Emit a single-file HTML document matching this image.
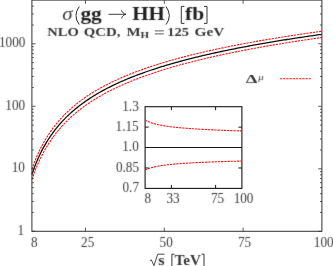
<!DOCTYPE html>
<html><head><meta charset="utf-8">
<style>
html,body{margin:0;padding:0;background:#fff;}
body{width:333px;height:266px;overflow:hidden;}
svg{display:block;}
text{font-family:"Liberation Serif",serif;}
.b{font-weight:bold;}
.i{font-style:italic;}
</style></head><body>
<svg width="333" height="266" viewBox="0 0 333 266">
<rect width="333" height="266" fill="#fff"/>
<!-- main curves -->
<g fill="none" stroke-linejoin="round">
<path d="M31.90,169.28 L33.36,165.17 L34.81,161.34 L36.27,157.76 L37.73,154.40 L39.19,151.23 L40.64,148.24 L42.10,145.41 L43.56,142.73 L45.02,140.18 L46.47,137.75 L47.93,135.43 L49.39,133.21 L50.84,131.09 L52.30,129.06 L53.76,127.10 L55.22,125.22 L56.67,123.41 L58.13,121.67 L59.59,119.99 L61.05,118.36 L62.50,116.79 L63.96,115.28 L65.42,113.80 L66.87,112.38 L68.33,110.99 L69.79,109.65 L71.25,108.35 L72.70,107.08 L74.16,105.84 L75.62,104.64 L77.08,103.47 L78.53,102.33 L79.99,101.22 L81.45,100.14 L82.91,99.08 L84.36,98.05 L85.82,97.04 L87.28,96.05 L88.73,95.08 L90.19,94.14 L91.65,93.21 L93.11,92.31 L94.56,91.42 L96.02,90.56 L97.48,89.70 L98.94,88.87 L100.39,88.05 L101.85,87.25 L103.31,86.46 L104.76,85.69 L106.22,84.93 L107.68,84.18 L109.14,83.45 L110.59,82.72 L112.05,82.02 L113.51,81.32 L114.97,80.63 L116.42,79.96 L117.88,79.29 L119.34,78.64 L120.79,78.00 L122.25,77.36 L123.71,76.74 L125.17,76.12 L126.62,75.52 L128.08,74.92 L129.54,74.33 L131.00,73.75 L132.45,73.18 L133.91,72.62 L135.37,72.06 L136.82,71.51 L138.28,70.97 L139.74,70.44 L141.20,69.91 L142.65,69.39 L144.11,68.87 L145.57,68.36 L147.03,67.86 L148.48,67.37 L149.94,66.88 L151.40,66.39 L152.85,65.91 L154.31,65.44 L155.77,64.97 L157.23,64.51 L158.68,64.06 L160.14,63.60 L161.60,63.16 L163.06,62.72 L164.51,62.28 L165.97,61.85 L167.43,61.42 L168.88,61.00 L170.34,60.58 L171.80,60.16 L173.26,59.75 L174.71,59.35 L176.17,58.95 L177.63,58.55 L179.09,58.15 L180.54,57.76 L182.00,57.38 L183.46,56.99 L184.92,56.61 L186.37,56.24 L187.83,55.87 L189.29,55.50 L190.74,55.13 L192.20,54.77 L193.66,54.41 L195.12,54.06 L196.57,53.70 L198.03,53.35 L199.49,53.01 L200.95,52.66 L202.40,52.32 L203.86,51.99 L205.32,51.65 L206.77,51.32 L208.23,50.99 L209.69,50.66 L211.15,50.34 L212.60,50.02 L214.06,49.70 L215.52,49.38 L216.98,49.07 L218.43,48.76 L219.89,48.45 L221.35,48.14 L222.80,47.84 L224.26,47.53 L225.72,47.24 L227.18,46.94 L228.63,46.64 L230.09,46.35 L231.55,46.06 L233.01,45.77 L234.46,45.48 L235.92,45.20 L237.38,44.91 L238.83,44.63 L240.29,44.36 L241.75,44.08 L243.21,43.80 L244.66,43.53 L246.12,43.26 L247.58,42.99 L249.04,42.72 L250.49,42.46 L251.95,42.19 L253.41,41.93 L254.86,41.67 L256.32,41.41 L257.78,41.15 L259.24,40.90 L260.69,40.64 L262.15,40.39 L263.61,40.14 L265.07,39.89 L266.52,39.64 L267.98,39.40 L269.44,39.15 L270.89,38.91 L272.35,38.67 L273.81,38.42 L275.27,38.19 L276.72,37.95 L278.18,37.71 L279.64,37.48 L281.10,37.24 L282.55,37.01 L284.01,36.78 L285.47,36.55 L286.93,36.32 L288.38,36.10 L289.84,35.87 L291.30,35.65 L292.75,35.42 L294.21,35.20 L295.67,34.98 L297.13,34.76 L298.58,34.54 L300.04,34.33 L301.50,34.11 L302.96,33.89 L304.41,33.68 L305.87,33.47 L307.33,33.26 L308.78,33.05 L310.24,32.84 L311.70,32.63 L313.16,32.42 L314.61,32.22 L316.07,32.01 L317.53,31.81 L318.99,31.60 L320.44,31.40 L321.90,31.20" stroke="#f01818" stroke-width="1.1" stroke-dasharray="2.3 0.9"/>
<path d="M31.90,179.56 L33.36,175.34 L34.81,171.41 L36.27,167.72 L37.73,164.26 L39.19,161.01 L40.64,157.94 L42.10,155.03 L43.56,152.26 L45.02,149.64 L46.47,147.14 L47.93,144.75 L49.39,142.47 L50.84,140.29 L52.30,138.19 L53.76,136.18 L55.22,134.25 L56.67,132.38 L58.13,130.59 L59.59,128.86 L61.05,127.19 L62.50,125.57 L63.96,124.00 L65.42,122.49 L66.87,121.02 L68.33,119.60 L69.79,118.21 L71.25,116.87 L72.70,115.56 L74.16,114.29 L75.62,113.05 L77.08,111.85 L78.53,110.68 L79.99,109.53 L81.45,108.41 L82.91,107.32 L84.36,106.26 L85.82,105.22 L87.28,104.20 L88.73,103.21 L90.19,102.24 L91.65,101.28 L93.11,100.35 L94.56,99.44 L96.02,98.54 L97.48,97.67 L98.94,96.81 L100.39,95.96 L101.85,95.14 L103.31,94.33 L104.76,93.53 L106.22,92.75 L107.68,91.98 L109.14,91.22 L110.59,90.48 L112.05,89.75 L113.51,89.03 L114.97,88.32 L116.42,87.63 L117.88,86.94 L119.34,86.27 L120.79,85.61 L122.25,84.96 L123.71,84.31 L125.17,83.68 L126.62,83.06 L128.08,82.44 L129.54,81.84 L131.00,81.24 L132.45,80.65 L133.91,80.07 L135.37,79.50 L136.82,78.93 L138.28,78.37 L139.74,77.82 L141.20,77.28 L142.65,76.74 L144.11,76.21 L145.57,75.69 L147.03,75.17 L148.48,74.66 L149.94,74.16 L151.40,73.66 L152.85,73.17 L154.31,72.68 L155.77,72.20 L157.23,71.73 L158.68,71.26 L160.14,70.79 L161.60,70.33 L163.06,69.88 L164.51,69.43 L165.97,68.98 L167.43,68.54 L168.88,68.11 L170.34,67.68 L171.80,67.25 L173.26,66.83 L174.71,66.41 L176.17,66.00 L177.63,65.59 L179.09,65.18 L180.54,64.78 L182.00,64.38 L183.46,63.99 L184.92,63.60 L186.37,63.21 L187.83,62.83 L189.29,62.45 L190.74,62.07 L192.20,61.70 L193.66,61.33 L195.12,60.97 L196.57,60.60 L198.03,60.24 L199.49,59.89 L200.95,59.53 L202.40,59.18 L203.86,58.84 L205.32,58.49 L206.77,58.15 L208.23,57.81 L209.69,57.48 L211.15,57.14 L212.60,56.81 L214.06,56.48 L215.52,56.16 L216.98,55.84 L218.43,55.52 L219.89,55.20 L221.35,54.88 L222.80,54.57 L224.26,54.26 L225.72,53.95 L227.18,53.65 L228.63,53.34 L230.09,53.04 L231.55,52.74 L233.01,52.45 L234.46,52.15 L235.92,51.86 L237.38,51.57 L238.83,51.28 L240.29,50.99 L241.75,50.71 L243.21,50.42 L244.66,50.14 L246.12,49.87 L247.58,49.59 L249.04,49.31 L250.49,49.04 L251.95,48.77 L253.41,48.50 L254.86,48.23 L256.32,47.97 L257.78,47.70 L259.24,47.44 L260.69,47.18 L262.15,46.92 L263.61,46.66 L265.07,46.40 L266.52,46.15 L267.98,45.90 L269.44,45.64 L270.89,45.40 L272.35,45.15 L273.81,44.90 L275.27,44.65 L276.72,44.41 L278.18,44.17 L279.64,43.93 L281.10,43.69 L282.55,43.45 L284.01,43.21 L285.47,42.98 L286.93,42.74 L288.38,42.51 L289.84,42.28 L291.30,42.05 L292.75,41.82 L294.21,41.59 L295.67,41.36 L297.13,41.14 L298.58,40.91 L300.04,40.69 L301.50,40.47 L302.96,40.25 L304.41,40.03 L305.87,39.81 L307.33,39.59 L308.78,39.38 L310.24,39.16 L311.70,38.95 L313.16,38.74 L314.61,38.53 L316.07,38.32 L317.53,38.11 L318.99,37.90 L320.44,37.69 L321.90,37.48" stroke="#f01818" stroke-width="1.1" stroke-dasharray="2.3 0.9"/>
<path d="M31.90,174.32 L33.36,170.16 L34.81,166.28 L36.27,162.65 L37.73,159.24 L39.19,156.04 L40.64,153.01 L42.10,150.14 L43.56,147.42 L45.02,144.84 L46.47,142.37 L47.93,140.02 L49.39,137.78 L50.84,135.62 L52.30,133.56 L53.76,131.58 L55.22,129.67 L56.67,127.84 L58.13,126.07 L59.59,124.37 L61.05,122.72 L62.50,121.13 L63.96,119.59 L65.42,118.10 L66.87,116.65 L68.33,115.25 L69.79,113.88 L71.25,112.56 L72.70,111.27 L74.16,110.02 L75.62,108.80 L77.08,107.62 L78.53,106.46 L79.99,105.33 L81.45,104.23 L82.91,103.16 L84.36,102.11 L85.82,101.09 L87.28,100.09 L88.73,99.11 L90.19,98.15 L91.65,97.21 L93.11,96.29 L94.56,95.39 L96.02,94.51 L97.48,93.65 L98.94,92.80 L100.39,91.97 L101.85,91.16 L103.31,90.36 L104.76,89.57 L106.22,88.80 L107.68,88.04 L109.14,87.30 L110.59,86.57 L112.05,85.85 L113.51,85.14 L114.97,84.45 L116.42,83.76 L117.88,83.09 L119.34,82.43 L120.79,81.77 L122.25,81.13 L123.71,80.50 L125.17,79.87 L126.62,79.26 L128.08,78.65 L129.54,78.06 L131.00,77.47 L132.45,76.89 L133.91,76.32 L135.37,75.75 L136.82,75.19 L138.28,74.64 L139.74,74.10 L141.20,73.57 L142.65,73.04 L144.11,72.52 L145.57,72.00 L147.03,71.49 L148.48,70.99 L149.94,70.49 L151.40,70.00 L152.85,69.52 L154.31,69.04 L155.77,68.56 L157.23,68.09 L158.68,67.63 L160.14,67.17 L161.60,66.72 L163.06,66.27 L164.51,65.83 L165.97,65.39 L167.43,64.96 L168.88,64.53 L170.34,64.10 L171.80,63.68 L173.26,63.27 L174.71,62.86 L176.17,62.45 L177.63,62.04 L179.09,61.64 L180.54,61.25 L182.00,60.86 L183.46,60.47 L184.92,60.08 L186.37,59.70 L187.83,59.32 L189.29,58.95 L190.74,58.58 L192.20,58.21 L193.66,57.85 L195.12,57.49 L196.57,57.13 L198.03,56.78 L199.49,56.43 L200.95,56.08 L202.40,55.73 L203.86,55.39 L205.32,55.05 L206.77,54.71 L208.23,54.38 L209.69,54.05 L211.15,53.72 L212.60,53.39 L214.06,53.07 L215.52,52.75 L216.98,52.43 L218.43,52.12 L219.89,51.80 L221.35,51.49 L222.80,51.18 L224.26,50.88 L225.72,50.57 L227.18,50.27 L228.63,49.97 L230.09,49.68 L231.55,49.38 L233.01,49.09 L234.46,48.80 L235.92,48.51 L237.38,48.22 L238.83,47.94 L240.29,47.65 L241.75,47.37 L243.21,47.09 L244.66,46.82 L246.12,46.54 L247.58,46.27 L249.04,46.00 L250.49,45.73 L251.95,45.46 L253.41,45.19 L254.86,44.93 L256.32,44.67 L257.78,44.41 L259.24,44.15 L260.69,43.89 L262.15,43.63 L263.61,43.38 L265.07,43.13 L266.52,42.88 L267.98,42.63 L269.44,42.38 L270.89,42.13 L272.35,41.89 L273.81,41.64 L275.27,41.40 L276.72,41.16 L278.18,40.92 L279.64,40.68 L281.10,40.45 L282.55,40.21 L284.01,39.98 L285.47,39.74 L286.93,39.51 L288.38,39.28 L289.84,39.05 L291.30,38.83 L292.75,38.60 L294.21,38.38 L295.67,38.15 L297.13,37.93 L298.58,37.71 L300.04,37.49 L301.50,37.27 L302.96,37.05 L304.41,36.84 L305.87,36.62 L307.33,36.41 L308.78,36.19 L310.24,35.98 L311.70,35.77 L313.16,35.56 L314.61,35.35 L316.07,35.14 L317.53,34.94 L318.99,34.73 L320.44,34.53 L321.90,34.32" stroke="#111" stroke-width="1.3"/>
</g>
<!-- frame -->
<rect x="31.9" y="0.1" width="290.0" height="231.20000000000002" fill="none" stroke="#3a3a3a" stroke-width="1.05"/>
<!-- inset -->
<rect x="145.1" y="106.7" width="96.80000000000001" height="81.7" fill="#fff" stroke="#161616" stroke-width="1.1"/>
<path d="M145.1,147.55 L241.9,147.55" stroke="#161616" stroke-width="1.05" fill="none"/>
<g fill="none">
<path d="M145.10,119.76 L145.59,120.08 L146.07,120.38 L146.56,120.66 L147.05,120.92 L147.53,121.18 L148.02,121.41 L148.51,121.64 L148.99,121.86 L149.48,122.06 L149.96,122.26 L150.45,122.45 L150.94,122.63 L151.42,122.80 L151.91,122.97 L152.40,123.13 L152.88,123.28 L153.37,123.43 L153.86,123.57 L154.34,123.71 L154.83,123.85 L155.32,123.98 L155.80,124.10 L156.29,124.23 L156.77,124.34 L157.26,124.46 L157.75,124.57 L158.23,124.68 L158.72,124.79 L159.21,124.89 L159.69,124.99 L160.18,125.09 L160.67,125.18 L161.15,125.28 L161.64,125.37 L162.13,125.46 L162.61,125.54 L163.10,125.63 L163.58,125.71 L164.07,125.79 L164.56,125.87 L165.04,125.95 L165.53,126.02 L166.02,126.10 L166.50,126.17 L166.99,126.24 L167.48,126.31 L167.96,126.38 L168.45,126.45 L168.94,126.51 L169.42,126.58 L169.91,126.64 L170.39,126.71 L170.88,126.77 L171.37,126.83 L171.85,126.89 L172.34,126.95 L172.83,127.00 L173.31,127.06 L173.80,127.12 L174.29,127.17 L174.77,127.22 L175.26,127.28 L175.75,127.33 L176.23,127.38 L176.72,127.43 L177.20,127.48 L177.69,127.53 L178.18,127.58 L178.66,127.63 L179.15,127.67 L179.64,127.72 L180.12,127.76 L180.61,127.81 L181.10,127.85 L181.58,127.90 L182.07,127.94 L182.56,127.98 L183.04,128.02 L183.53,128.07 L184.01,128.11 L184.50,128.15 L184.99,128.19 L185.47,128.23 L185.96,128.27 L186.45,128.30 L186.93,128.34 L187.42,128.38 L187.91,128.42 L188.39,128.45 L188.88,128.49 L189.37,128.52 L189.85,128.56 L190.34,128.60 L190.82,128.63 L191.31,128.66 L191.80,128.70 L192.28,128.73 L192.77,128.76 L193.26,128.80 L193.74,128.83 L194.23,128.86 L194.72,128.89 L195.20,128.92 L195.69,128.95 L196.18,128.99 L196.66,129.02 L197.15,129.05 L197.63,129.07 L198.12,129.10 L198.61,129.13 L199.09,129.16 L199.58,129.19 L200.07,129.22 L200.55,129.25 L201.04,129.27 L201.53,129.30 L202.01,129.33 L202.50,129.36 L202.99,129.38 L203.47,129.41 L203.96,129.44 L204.44,129.46 L204.93,129.49 L205.42,129.51 L205.90,129.54 L206.39,129.56 L206.88,129.59 L207.36,129.61 L207.85,129.64 L208.34,129.66 L208.82,129.68 L209.31,129.71 L209.80,129.73 L210.28,129.75 L210.77,129.78 L211.25,129.80 L211.74,129.82 L212.23,129.85 L212.71,129.87 L213.20,129.89 L213.69,129.91 L214.17,129.93 L214.66,129.96 L215.15,129.98 L215.63,130.00 L216.12,130.02 L216.61,130.04 L217.09,130.06 L217.58,130.08 L218.06,130.10 L218.55,130.12 L219.04,130.14 L219.52,130.16 L220.01,130.18 L220.50,130.20 L220.98,130.22 L221.47,130.24 L221.96,130.26 L222.44,130.28 L222.93,130.30 L223.42,130.32 L223.90,130.34 L224.39,130.35 L224.87,130.37 L225.36,130.39 L225.85,130.41 L226.33,130.43 L226.82,130.44 L227.31,130.46 L227.79,130.48 L228.28,130.50 L228.77,130.51 L229.25,130.53 L229.74,130.55 L230.23,130.57 L230.71,130.58 L231.20,130.60 L231.68,130.62 L232.17,130.63 L232.66,130.65 L233.14,130.67 L233.63,130.68 L234.12,130.70 L234.60,130.71 L235.09,130.73 L235.58,130.75 L236.06,130.76 L236.55,130.78 L237.04,130.79 L237.52,130.81 L238.01,130.82 L238.49,130.84 L238.98,130.85 L239.47,130.87 L239.95,130.88 L240.44,130.90 L240.93,130.91 L241.41,130.93 L241.90,130.94" stroke="#f01818" stroke-width="1.1" stroke-dasharray="2.3 0.9"/>
<path d="M145.10,170.11 L145.59,169.86 L146.07,169.61 L146.56,169.38 L147.05,169.17 L147.53,168.96 L148.02,168.77 L148.51,168.59 L148.99,168.41 L149.48,168.25 L149.96,168.09 L150.45,167.93 L150.94,167.79 L151.42,167.65 L151.91,167.51 L152.40,167.38 L152.88,167.26 L153.37,167.14 L153.86,167.02 L154.34,166.91 L154.83,166.80 L155.32,166.69 L155.80,166.59 L156.29,166.49 L156.77,166.39 L157.26,166.30 L157.75,166.21 L158.23,166.12 L158.72,166.04 L159.21,165.95 L159.69,165.87 L160.18,165.79 L160.67,165.71 L161.15,165.64 L161.64,165.57 L162.13,165.49 L162.61,165.42 L163.10,165.35 L163.58,165.29 L164.07,165.22 L164.56,165.16 L165.04,165.09 L165.53,165.03 L166.02,164.97 L166.50,164.91 L166.99,164.85 L167.48,164.80 L167.96,164.74 L168.45,164.69 L168.94,164.63 L169.42,164.58 L169.91,164.53 L170.39,164.48 L170.88,164.43 L171.37,164.38 L171.85,164.33 L172.34,164.28 L172.83,164.24 L173.31,164.19 L173.80,164.15 L174.29,164.10 L174.77,164.06 L175.26,164.02 L175.75,163.97 L176.23,163.93 L176.72,163.89 L177.20,163.85 L177.69,163.81 L178.18,163.77 L178.66,163.73 L179.15,163.70 L179.64,163.66 L180.12,163.62 L180.61,163.58 L181.10,163.55 L181.58,163.51 L182.07,163.48 L182.56,163.44 L183.04,163.41 L183.53,163.38 L184.01,163.34 L184.50,163.31 L184.99,163.28 L185.47,163.25 L185.96,163.21 L186.45,163.18 L186.93,163.15 L187.42,163.12 L187.91,163.09 L188.39,163.06 L188.88,163.03 L189.37,163.00 L189.85,162.98 L190.34,162.95 L190.82,162.92 L191.31,162.89 L191.80,162.86 L192.28,162.84 L192.77,162.81 L193.26,162.78 L193.74,162.76 L194.23,162.73 L194.72,162.71 L195.20,162.68 L195.69,162.66 L196.18,162.63 L196.66,162.61 L197.15,162.58 L197.63,162.56 L198.12,162.53 L198.61,162.51 L199.09,162.49 L199.58,162.46 L200.07,162.44 L200.55,162.42 L201.04,162.40 L201.53,162.37 L202.01,162.35 L202.50,162.33 L202.99,162.31 L203.47,162.29 L203.96,162.27 L204.44,162.25 L204.93,162.22 L205.42,162.20 L205.90,162.18 L206.39,162.16 L206.88,162.14 L207.36,162.12 L207.85,162.10 L208.34,162.08 L208.82,162.06 L209.31,162.05 L209.80,162.03 L210.28,162.01 L210.77,161.99 L211.25,161.97 L211.74,161.95 L212.23,161.93 L212.71,161.92 L213.20,161.90 L213.69,161.88 L214.17,161.86 L214.66,161.84 L215.15,161.83 L215.63,161.81 L216.12,161.79 L216.61,161.78 L217.09,161.76 L217.58,161.74 L218.06,161.73 L218.55,161.71 L219.04,161.69 L219.52,161.68 L220.01,161.66 L220.50,161.65 L220.98,161.63 L221.47,161.61 L221.96,161.60 L222.44,161.58 L222.93,161.57 L223.42,161.55 L223.90,161.54 L224.39,161.52 L224.87,161.51 L225.36,161.49 L225.85,161.48 L226.33,161.46 L226.82,161.45 L227.31,161.43 L227.79,161.42 L228.28,161.41 L228.77,161.39 L229.25,161.38 L229.74,161.36 L230.23,161.35 L230.71,161.34 L231.20,161.32 L231.68,161.31 L232.17,161.30 L232.66,161.28 L233.14,161.27 L233.63,161.26 L234.12,161.24 L234.60,161.23 L235.09,161.22 L235.58,161.20 L236.06,161.19 L236.55,161.18 L237.04,161.17 L237.52,161.15 L238.01,161.14 L238.49,161.13 L238.98,161.12 L239.47,161.10 L239.95,161.09 L240.44,161.08 L240.93,161.07 L241.41,161.06 L241.90,161.04" stroke="#f01818" stroke-width="1.1" stroke-dasharray="2.3 0.9"/>
</g>
<path d="M31.90,231.30 L35.60,231.30 M321.90,231.30 L318.20,231.30 M31.90,212.49 L33.80,212.49 M321.90,212.49 L320.00,212.49 M31.90,201.48 L33.80,201.48 M321.90,201.48 L320.00,201.48 M31.90,193.67 L33.80,193.67 M321.90,193.67 L320.00,193.67 M31.90,187.61 L33.80,187.61 M321.90,187.61 L320.00,187.61 M31.90,182.67 L33.80,182.67 M321.90,182.67 L320.00,182.67 M31.90,178.48 L33.80,178.48 M321.90,178.48 L320.00,178.48 M31.90,174.86 L33.80,174.86 M321.90,174.86 L320.00,174.86 M31.90,171.66 L33.80,171.66 M321.90,171.66 L320.00,171.66 M31.90,168.80 L35.60,168.80 M321.90,168.80 L318.20,168.80 M31.90,149.99 L33.80,149.99 M321.90,149.99 L320.00,149.99 M31.90,138.98 L33.80,138.98 M321.90,138.98 L320.00,138.98 M31.90,131.17 L33.80,131.17 M321.90,131.17 L320.00,131.17 M31.90,125.11 L33.80,125.11 M321.90,125.11 L320.00,125.11 M31.90,120.17 L33.80,120.17 M321.90,120.17 L320.00,120.17 M31.90,115.98 L33.80,115.98 M321.90,115.98 L320.00,115.98 M31.90,112.36 L33.80,112.36 M321.90,112.36 L320.00,112.36 M31.90,109.16 L33.80,109.16 M321.90,109.16 L320.00,109.16 M31.90,106.30 L35.60,106.30 M321.90,106.30 L318.20,106.30 M31.90,87.49 L33.80,87.49 M321.90,87.49 L320.00,87.49 M31.90,76.48 L33.80,76.48 M321.90,76.48 L320.00,76.48 M31.90,68.67 L33.80,68.67 M321.90,68.67 L320.00,68.67 M31.90,62.61 L33.80,62.61 M321.90,62.61 L320.00,62.61 M31.90,57.67 L33.80,57.67 M321.90,57.67 L320.00,57.67 M31.90,53.48 L33.80,53.48 M321.90,53.48 L320.00,53.48 M31.90,49.86 L33.80,49.86 M321.90,49.86 L320.00,49.86 M31.90,46.66 L33.80,46.66 M321.90,46.66 L320.00,46.66 M31.90,43.80 L35.60,43.80 M321.90,43.80 L318.20,43.80 M31.90,24.99 L33.80,24.99 M321.90,24.99 L320.00,24.99 M31.90,13.98 L33.80,13.98 M321.90,13.98 L320.00,13.98 M31.90,6.17 L33.80,6.17 M321.90,6.17 L320.00,6.17 M85.49,231.30 L85.49,227.60 M85.49,0.10 L85.49,3.80 M164.29,231.30 L164.29,227.60 M164.29,0.10 L164.29,3.80 M243.10,231.30 L243.10,227.60 M243.10,0.10 L243.10,3.80" stroke="#333" stroke-width="0.8" fill="none"/>
<path d="M171.40,188.40 L171.40,184.90 M171.40,106.70 L171.40,110.20 M215.60,188.40 L215.60,184.90 M215.60,106.70 L215.60,110.20 M145.10,127.13 L148.60,127.13 M241.90,127.13 L238.40,127.13 M145.10,167.98 L148.60,167.98 M241.90,167.98 L238.40,167.98" stroke="#161616" stroke-width="1.0" fill="none"/>
<!-- legend -->
<path d="M279.9,78.8 L310.9,78.8" stroke="#f01818" stroke-width="1.1" stroke-dasharray="2.3 0.9" fill="none"/>
<filter id="sb" x="-5%" y="-20%" width="110%" height="140%"><feConvolveMatrix order="3" kernelMatrix="0.012 0.088 0.012 0.088 0.6 0.088 0.012 0.088 0.012" edgeMode="none" preserveAlpha="false"/></filter>
<g opacity="0.999" filter="url(#sb)">
<text transform="translate(62.22,19.8) scale(1.161,1)" font-size="18" font-weight="normal" font-style="italic" fill="#3a3a3a">σ</text>
<text transform="translate(80.41,19.8) scale(1.186,1)" font-size="18" font-weight="bold" font-style="normal" fill="#1c1c1c">gg</text>
<text transform="translate(132.21,19.8) scale(1.164,1)" font-size="18" font-weight="bold" font-style="normal" fill="#1c1c1c">HH</text>
<text transform="translate(185.05,19.8) scale(1.19,1)" font-size="18" font-weight="bold" font-style="normal" fill="#1c1c1c">fb</text>
<text transform="translate(47.32,35.5) scale(1.113,1)" font-size="13.1" font-weight="bold" font-style="normal" fill="#343434">NLO</text>
<text transform="translate(83.79,35.5) scale(1.136,1)" font-size="13.1" font-weight="bold" font-style="normal" fill="#343434">QCD,</text>
<text transform="translate(126.51,35.5) scale(1.14,1)" font-size="13.1" font-weight="bold" font-style="normal" fill="#343434">M</text>
<text transform="translate(140.45,37.8) scale(1.193,1)" font-size="9.2" font-weight="bold" font-style="normal" fill="#343434">H</text>
<text transform="translate(167.3,35.5) scale(1.103,1)" font-size="13.1" font-weight="bold" font-style="normal" fill="#343434">125</text>
<text transform="translate(194.57,35.5) scale(1.174,1)" font-size="13.1" font-weight="bold" font-style="normal" fill="#343434">GeV</text>
<text transform="translate(158.18,264.6) scale(1.2,1)" font-size="13.6" font-weight="bold" font-style="normal" fill="#343434">s</text>
<text transform="translate(174.42,264.6) scale(1.118,1)" font-size="13.6" font-weight="bold" font-style="normal" fill="#343434">TeV</text>
<text transform="translate(245.72,83.2) scale(1.41,1)" font-size="13.2" font-weight="bold" font-style="normal" fill="#343434">Δ</text>
<text transform="translate(258.35,79.6) scale(1.2,1)" font-size="9" font-weight="normal" font-style="italic" fill="#3a3a3a">μ</text>
<text transform="translate(-1.05,47.2) scale(1.0,1.06)" font-size="13.2" font-weight="normal" font-style="normal" fill="#3a3a3a">1000</text>
<text transform="translate(5.36,109.7) scale(1.0,1.06)" font-size="13.2" font-weight="normal" font-style="normal" fill="#3a3a3a">100</text>
<text transform="translate(11.77,172.2) scale(1.0,1.06)" font-size="13.2" font-weight="normal" font-style="normal" fill="#3a3a3a">10</text>
<text transform="translate(17.61,234.7) scale(1.0,1.06)" font-size="13.2" font-weight="normal" font-style="normal" fill="#3a3a3a">1</text>
<text transform="translate(30.89,246.7) scale(1.0,1.06)" font-size="13.2" font-weight="normal" font-style="normal" fill="#3a3a3a">8</text>
<text transform="translate(81.08,246.7) scale(1.0,1.06)" font-size="13.2" font-weight="normal" font-style="normal" fill="#3a3a3a">25</text>
<text transform="translate(159.61,246.7) scale(1.0,1.06)" font-size="13.2" font-weight="normal" font-style="normal" fill="#3a3a3a">50</text>
<text transform="translate(237.95,246.7) scale(1.0,1.06)" font-size="13.2" font-weight="normal" font-style="normal" fill="#3a3a3a">75</text>
<text transform="translate(313.81,246.7) scale(1.0,1.06)" font-size="13.2" font-weight="normal" font-style="normal" fill="#3a3a3a">100</text>
<text transform="translate(122.24,110.5) scale(1.0,1.06)" font-size="13.2" font-weight="normal" font-style="normal" fill="#3a3a3a">1.3</text>
<text transform="translate(115.58,130.9) scale(1.0,1.06)" font-size="13.2" font-weight="normal" font-style="normal" fill="#3a3a3a">1.15</text>
<text transform="translate(122.24,151.4) scale(1.0,1.06)" font-size="13.2" font-weight="normal" font-style="normal" fill="#3a3a3a">1.0</text>
<text transform="translate(115.89,171.8) scale(1.0,1.06)" font-size="13.2" font-weight="normal" font-style="normal" fill="#3a3a3a">0.85</text>
<text transform="translate(122.49,192.2) scale(1.0,1.06)" font-size="13.2" font-weight="normal" font-style="normal" fill="#3a3a3a">0.7</text>
<text transform="translate(144.44,203.2) scale(1.0,1.06)" font-size="13.2" font-weight="normal" font-style="normal" fill="#3a3a3a">8</text>
<text transform="translate(166.48,203.2) scale(1.0,1.06)" font-size="13.2" font-weight="normal" font-style="normal" fill="#3a3a3a">33</text>
<text transform="translate(210.95,203.2) scale(1.0,1.06)" font-size="13.2" font-weight="normal" font-style="normal" fill="#3a3a3a">75</text>
<text transform="translate(233.66,203.2) scale(1.0,1.06)" font-size="13.2" font-weight="normal" font-style="normal" fill="#3a3a3a">100</text>
</g>
<!-- arrow -->
<path d="M108.9,14.3 L125.4,14.3 M121.6,10.6 C122.4,12.6 123.8,13.8 125.9,14.3 C123.8,14.8 122.4,16.0 121.6,18.0" stroke="#1c1c1c" stroke-width="0.85" fill="none" stroke-linecap="round"/>
<!-- parens / brackets -->
<path d="M79.0,6.9 Q72.7,15.6 79.0,24.3 M166.3,6.9 Q172.6,15.6 166.3,24.3" stroke="#2a2a2a" stroke-width="1.0" fill="none" stroke-linecap="round"/>
<path d="M184.4,6.4 H181.3 V23.4 H184.4 M204.0,6.4 H207.0 V23.4 H204.0" stroke="#2a2a2a" stroke-width="0.95" fill="none"/>
<path d="M174.4,254.2 H171.9 V267 M201.6,254.2 H204.0 V267" stroke="#2a2a2a" stroke-width="0.95" fill="none"/>
<!-- equals -->
<path d="M154.8,30.9 L163.8,30.9 M154.8,33.9 L163.8,33.9" stroke="#333" stroke-width="0.8" fill="none"/>
<!-- sqrt -->
<path d="M149.9,260.6 L151.3,259.8 L154.0,265.6 L157.7,254.2 L164.6,254.2" stroke="#1c1c1c" stroke-width="0.8" fill="none"/>
</svg>
</body></html>
